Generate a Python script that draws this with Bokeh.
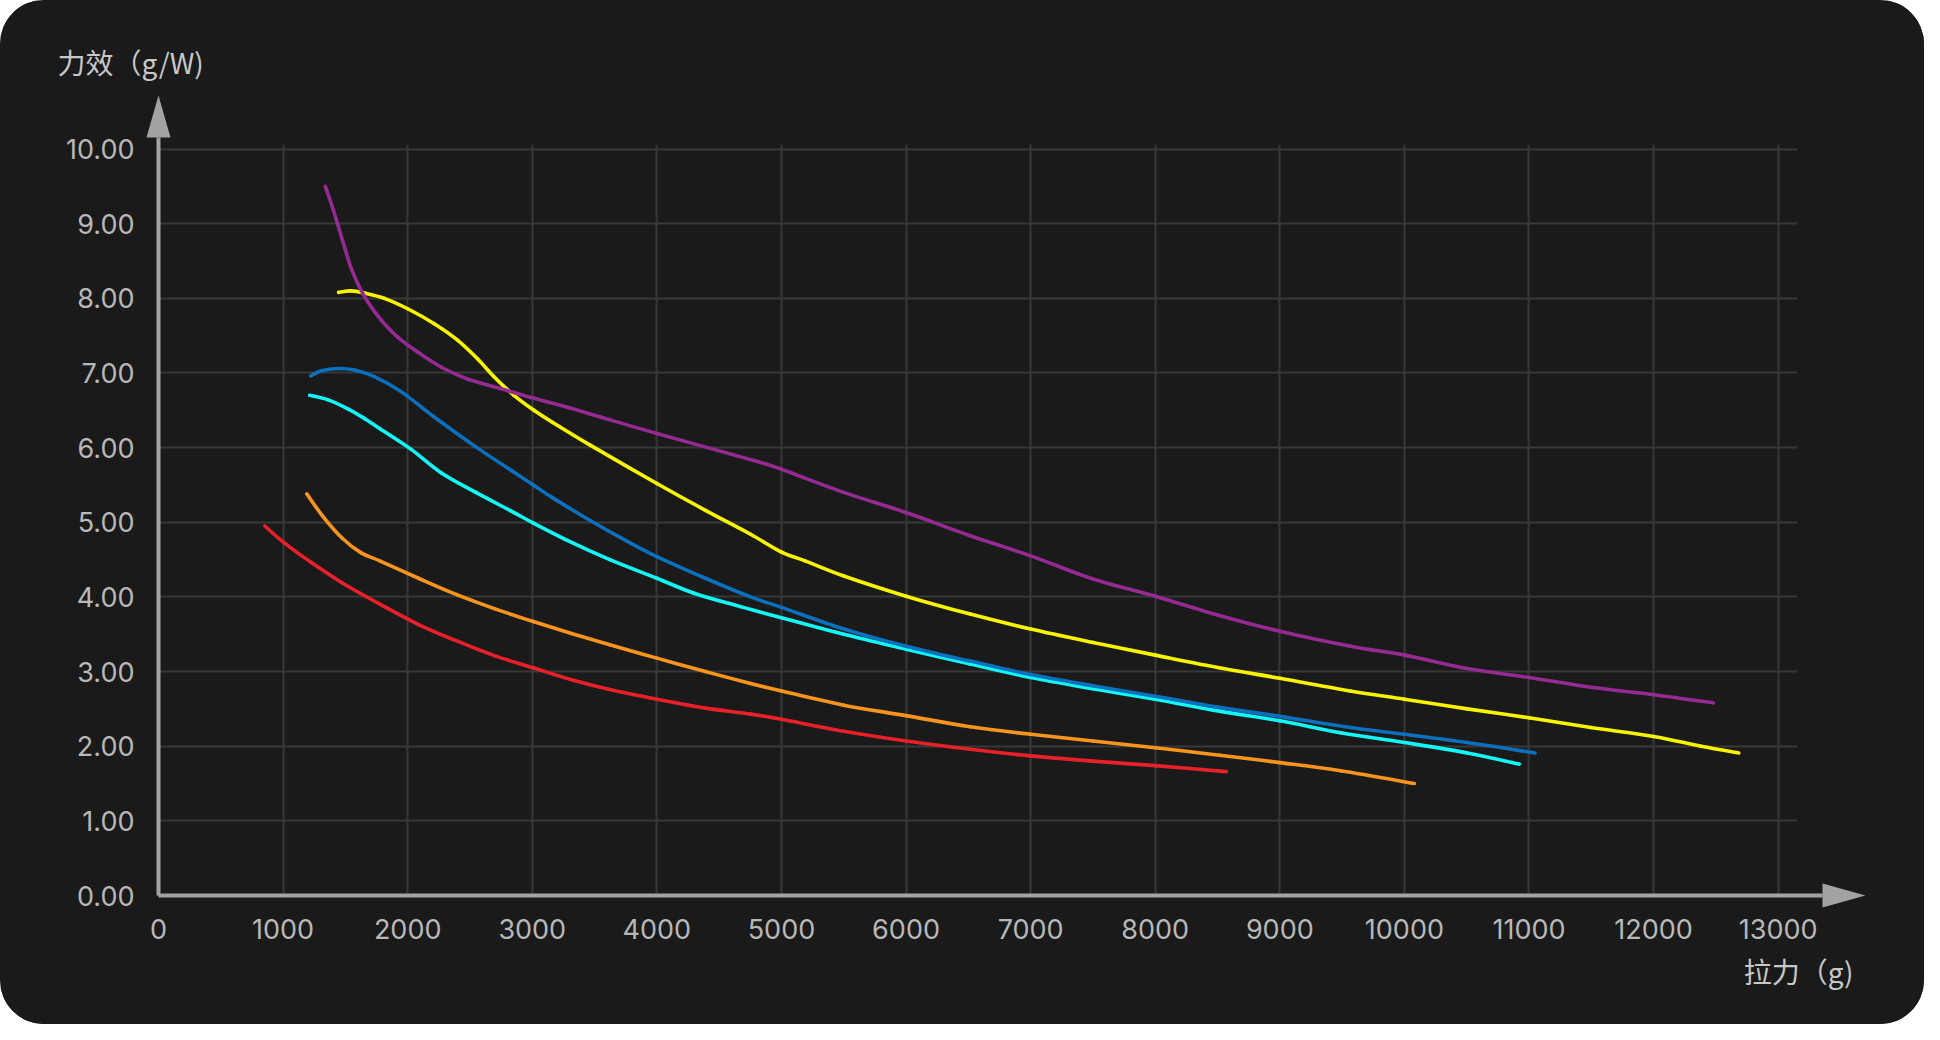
from bokeh.plotting import figure
from bokeh.models import FixedTicker, Range1d, PrintfTickFormatter, Title
from bokeh.embed import file_html
from bokeh.resources import INLINE

# ---------------- data ----------------
x_ticks = [0, 1000, 2000, 3000, 4000, 5000, 6000, 7000, 8000, 9000, 10000, 11000, 12000, 13000]
y_ticks = [0, 1, 2, 3, 4, 5, 6, 7, 8, 9, 10]
y_title = "力效（g/W)"
x_title = "拉力（g)"

red_x = [853, 1012, 1227, 1473, 1780, 2087, 2394, 2701, 3008, 3315, 3622, 4000, 4390, 4752,
         5000, 5500, 6000, 6515, 7000, 7500, 8000, 8570]
red_y = [4.95, 4.72, 4.46, 4.19, 3.90, 3.63, 3.41, 3.21, 3.05, 2.89, 2.76, 2.63, 2.51, 2.43,
         2.36, 2.20, 2.07, 1.96, 1.87, 1.80, 1.74, 1.66]

orange_x = [1190, 1319, 1473, 1627, 1780, 2087, 2394, 2701, 3008, 3315, 3622, 4000, 4390, 4752,
            5000, 5500, 6000, 6515, 7000, 7500, 8000, 8515, 9000, 9488, 10080]
orange_y = [5.38, 5.08, 4.79, 4.59, 4.48, 4.25, 4.03, 3.84, 3.67, 3.51, 3.36, 3.18, 3.00, 2.84,
            2.74, 2.55, 2.41, 2.26, 2.16, 2.07, 1.98, 1.88, 1.78, 1.67, 1.50]

cyan_x = [1213, 1360, 1520, 1653, 1780, 2025, 2271, 2547, 2854, 3008, 3315, 3622, 4000,
          4298, 4671, 5000, 5500, 6000, 6515, 7000, 7500, 8000, 8515, 9000, 9488, 10000, 10504, 10922]
cyan_y = [6.70, 6.64, 6.52, 6.39, 6.25, 5.98, 5.66, 5.40, 5.13, 4.99, 4.73, 4.50, 4.25,
          4.05, 3.87, 3.72, 3.50, 3.30, 3.10, 2.92, 2.77, 2.63, 2.47, 2.34, 2.18, 2.05, 1.91, 1.76]

blue_x = [1221, 1307, 1440, 1573, 1733, 1947, 2213, 2547, 2854, 3008, 3161, 3468, 3745, 4000,
          4390, 4752, 5000, 5500, 6000, 6515, 7000, 7500, 8000, 8515, 9000, 9566, 10000, 10504, 11048]
blue_y = [6.96, 7.03, 7.06, 7.04, 6.95, 6.75, 6.41, 6.01, 5.67, 5.50, 5.33, 5.02, 4.76, 4.54,
          4.25, 4.00, 3.86, 3.57, 3.34, 3.14, 2.96, 2.81, 2.67, 2.52, 2.40, 2.25, 2.16, 2.05, 1.91]

yellow_x = [1445, 1547, 1653, 1813, 2000, 2213, 2400, 2560, 2693, 2853, 3013, 3161, 3468, 4000,
            4390, 4752, 5000, 5194, 5500, 6000, 6515, 7000, 7500, 8000, 8515, 9000, 9566, 10000,
            10504, 11000, 11496, 12000, 12381, 12684]
yellow_y = [8.08, 8.10, 8.07, 8.00, 7.86, 7.66, 7.44, 7.19, 6.95, 6.70, 6.50, 6.34, 6.03, 5.52,
            5.16, 4.84, 4.60, 4.48, 4.28, 4.01, 3.77, 3.57, 3.39, 3.22, 3.05, 2.91, 2.74, 2.63,
            2.50, 2.38, 2.25, 2.13, 2.00, 1.91]

purple_x = [1339, 1400, 1453, 1500, 1547, 1613, 1680, 1787, 1920, 2080, 2267, 2480, 2747, 3013,
            3280, 3547, 4000, 4793, 5000, 5500, 6000, 6515, 7000, 7500, 8000, 8515, 9000, 9566,
            10000, 10504, 11000, 11496, 12000, 12480]
purple_y = [9.50, 9.20, 8.91, 8.65, 8.40, 8.15, 7.95, 7.71, 7.48, 7.28, 7.08, 6.92, 6.79, 6.66,
            6.54, 6.41, 6.19, 5.82, 5.71, 5.40, 5.13, 4.82, 4.55, 4.24, 4.01, 3.75, 3.54, 3.34,
            3.22, 3.04, 2.92, 2.79, 2.69, 2.58]

series = [
    (red_x, red_y, "#e8202a"),
    (orange_x, orange_y, "#f7941d"),
    (cyan_x, cyan_y, "#14f5f5"),
    (blue_x, blue_y, "#0b70bd"),
    (yellow_x, yellow_y, "#f8f400"),
    (purple_x, purple_y, "#952a92"),
]

# ---------------- layout ----------------
W, H = 1924, 1024
FL, FR, FT, FB = 144, 1865, 95, 909          # frame edges on the canvas
X0, X1 = -112.4, 13701.0
Y0, Y1 = -0.1875, 10.717
PX = (FR - FL) / (X1 - X0)                    # pixels per x unit
PY = (FB - FT) / (Y1 - Y0)                    # pixels per y unit

def dx(px):   # canvas pixel x -> data x
    return X0 + (px - FL) / PX

def dy(py):   # canvas pixel y -> data y
    return Y0 + (FB - py) / PY

BG = "#1a1a1a"
AXIS = "#a3a3a3"
GRID = "#383838"
TICK_TXT = "#b8b8b8"
TITLE_TXT = "#c8c8c8"

p = figure(width=W, height=H, x_range=Range1d(X0, X1), y_range=Range1d(Y0, Y1),
           output_backend="svg", toolbar_location=None,
           min_border_left=FL, min_border_right=W - FR,
           min_border_top=FT, min_border_bottom=H - FB)
p.styles = {"border-radius": "44px", "overflow": "hidden", "background-color": BG}
p.background_fill_color = BG
p.border_fill_color = BG
p.outline_line_color = None

# axes (ticks & labels only)
for ax in (p.xaxis[0], p.yaxis[0]):
    ax.axis_line_color = None
    ax.major_tick_line_color = None
    ax.minor_tick_line_color = None
    ax.major_tick_out = 0
    ax.major_tick_in = 0
    ax.minor_tick_out = 0
    ax.major_label_text_font = "Inter"
    ax.major_label_text_font_size = "27px"
    ax.major_label_text_color = TICK_TXT
p.xaxis[0].ticker = FixedTicker(ticks=x_ticks)
p.yaxis[0].ticker = FixedTicker(ticks=y_ticks)
p.yaxis[0].formatter = PrintfTickFormatter(format="%.2f")
p.yaxis[0].major_label_standoff = 10
p.xaxis[0].major_label_standoff = 9

# grid
p.xgrid.ticker = FixedTicker(ticks=x_ticks[1:])
p.ygrid.ticker = FixedTicker(ticks=y_ticks[1:])
p.xgrid.cross_bounds = (0, dy(FT + 49))
p.ygrid.cross_bounds = (0, dx(1797))
for g in (p.xgrid, p.ygrid):
    g.grid_line_color = GRID
    g.grid_line_width = 2

# axis lines with arrows
x_arrow_base = dx(FR - 43)
y_arrow_base = dy(FT + 42)
p.segment(x0=[0, 0], y0=[0, 0], x1=[x_arrow_base, 0], y1=[0, y_arrow_base],
          line_color=AXIS, line_width=4)
hw_x = 12 / PX
hw_y = 12 / PY
p.patch(x=[-hw_x, hw_x, 0], y=[y_arrow_base, y_arrow_base, Y1],
        fill_color=AXIS, line_color=None)
p.patch(x=[x_arrow_base, x_arrow_base, X1], y=[-hw_y, hw_y, 0],
        fill_color=AXIS, line_color=None)

# data lines: smooth curves through the read points (Catmull-Rom -> cubic Bezier)
def bezier_parts(xs, ys):
    n = len(xs)
    out = {k: [] for k in ("x0", "y0", "x1", "y1", "cx0", "cy0", "cx1", "cy1")}
    for i in range(n - 1):
        a = max(i - 1, 0)
        d = min(i + 2, n - 1)
        out["x0"].append(xs[i]); out["y0"].append(ys[i])
        out["x1"].append(xs[i + 1]); out["y1"].append(ys[i + 1])
        out["cx0"].append(xs[i] + (xs[i + 1] - xs[a]) / 6)
        out["cy0"].append(ys[i] + (ys[i + 1] - ys[a]) / 6)
        out["cx1"].append(xs[i + 1] - (xs[d] - xs[i]) / 6)
        out["cy1"].append(ys[i + 1] - (ys[d] - ys[i]) / 6)
    return out

for xs, ys, col in series:
    p.bezier(**bezier_parts(xs, ys), line_color=col, line_width=3.6, line_cap="round")

# titles
t_y = Title(text=y_title, align="left", offset=-(FL - 57), standoff=27,
            text_font="Noto Sans CJK SC", text_font_size="28px",
            text_color=TITLE_TXT, text_font_style="normal")
p.add_layout(t_y, "above")
t_x = Title(text=x_title, align="right", offset=(FR - 1853), standoff=14,
            text_font="Noto Sans CJK SC", text_font_size="28px",
            text_color=TITLE_TXT, text_font_style="normal")
p.add_layout(t_x, "below")

open("out.html", "w").write(file_html(p, INLINE))
